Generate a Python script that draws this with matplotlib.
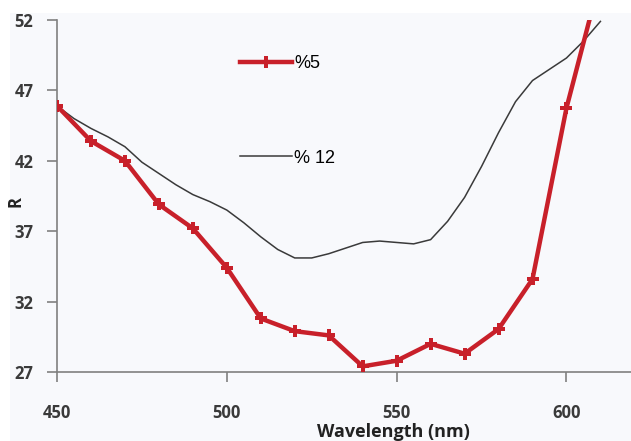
import matplotlib.pyplot as plt

wl_5 = [450, 460, 470, 480, 490, 500, 510, 520, 530, 540, 550, 560, 570, 580, 590, 600, 610]
r_5 = [45.9, 43.4, 42.0, 38.9, 37.2, 34.4, 30.8, 29.9, 29.6, 27.4, 27.8, 29.0, 28.3, 30.05, 33.6, 45.75, 55.0]

wl_12 = [450, 455, 460, 465, 470, 475, 480, 485, 490, 495, 500, 505, 510, 515, 520, 525, 530,
         535, 540, 545, 550, 555, 560, 565, 570, 575, 580, 585, 590, 595, 600, 605, 610]
r_12 = [45.9, 45.0, 44.3, 43.7, 43.0, 41.9, 41.1, 40.3, 39.6, 39.1, 38.5, 37.6, 36.6, 35.7, 35.1, 35.1, 35.4,
        35.8, 36.2, 36.3, 36.2, 36.1, 36.4, 37.7, 39.4, 41.6, 44.0, 46.2, 47.7, 48.5, 49.3, 50.5, 51.9]

xticks = [450, 500, 550, 600]
yticks = [27, 32, 37, 42, 47, 52]

fig = plt.figure(figsize=(6.31, 4.41), dpi=100)
# light panel behind the plot
fig.patches.append(plt.Rectangle((10/631, 0), 1, 1 - 13/441, transform=fig.transFigure,
                                 facecolor="#f8f9fc", edgecolor="none", zorder=-5))
ax = fig.add_axes([57/631, 69/441, 574/631, 352/441])
ax.set_facecolor("none")

ax.plot(wl_5, r_5, color="#c8202a", lw=3.2, marker="P", ms=8, mew=0, label="%5", zorder=3)
ax.plot(wl_12, r_12, color="#3a3a3a", lw=1.1, label="% 12", zorder=2)

ax.set_xlim(450, 619)
ax.set_ylim(27, 52)
ax.set_xticks(xticks)
ax.set_yticks(yticks)
for s in ["top", "right"]:
    ax.spines[s].set_visible(False)
for s in ["left", "bottom"]:
    ax.spines[s].set_color("#808080")
    ax.spines[s].set_linewidth(1.2)
ax.tick_params(axis="both", color="#808080", width=1.2, length=7, labelsize=12,
               labelcolor="#3a3a3a")
ax.tick_params(axis="x", pad=16)
ax.tick_params(axis="y", pad=10)
for lab in ax.get_xticklabels() + ax.get_yticklabels():
    lab.set_fontweight("bold")
    lab.set_family("Open Sans")

fig.text(15/631, 1 - 202/441, "R", rotation=90, ha="center", va="center",
         fontsize=12, fontweight="bold", family="Open Sans", color="#222222")
fig.text(393/631, 1 - 423/441, "Wavelength (nm)", ha="center", va="top",
         fontsize=13, fontweight="bold", family="Open Sans", color="#222222")

ax.legend(loc="upper left", bbox_to_anchor=(240/631, 1 - 55/441), bbox_transform=fig.transFigure,
          frameon=False, handlelength=2.9, handletextpad=0.1, labelspacing=4.3,
          borderpad=0, borderaxespad=0, prop={"family": "Liberation Sans", "size": 13})

fig.savefig("out.png", dpi=100)
